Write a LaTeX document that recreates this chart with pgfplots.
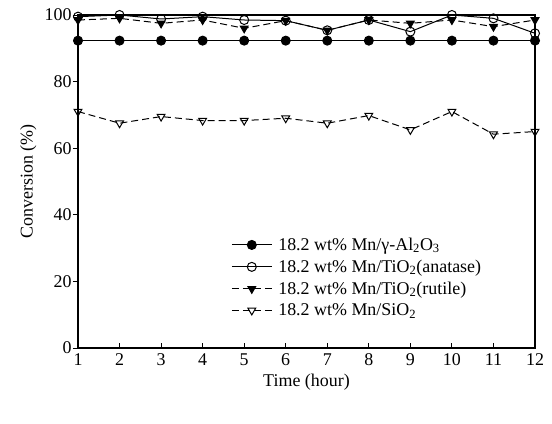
\documentclass[border=0pt]{standalone}
\usepackage{fontspec}
\setmainfont{Liberation Serif}
\usepackage{pgfplots}
\pgfplotsset{compat=1.18}
\begin{document}
\begin{tikzpicture}
\path[use as bounding box] (-78bp,-76bp) rectangle (474bp,348bp);
\begin{axis}[
  at={(0,0)}, anchor=south west,
  scale only axis, width=457bp, height=333bp,
  xmin=1, xmax=12, ymin=0, ymax=100,
  xtick={1,...,12}, ytick={0,20,...,100},
  tick pos=left, tick align=inside,
  major tick length=5bp,
  y tick style={xshift=-5bp},
  tick style={black, line width=0.9bp},
  axis line style={line width=1.4bp},
  yticklabel style={xshift=-3bp},
  xticklabel style={yshift=-2bp},
  clip=false,
  font=\fontsize{18}{22}\selectfont,
  /pgf/number format/assume math mode=true,
  xlabel={Time (hour)}, ylabel={Conversion (\%)},
  xlabel style={at={(axis description cs:0.5,-0.102)}, anchor=center},
  ylabel style={at={(axis description cs:-0.109,0.5)}, anchor=center},
  legend style={draw=none, fill=none, at={(0.335,0.337)}, anchor=north west,
    inner sep=0pt, row sep=4bp, column sep=4bp, font=\fontsize{18}{22}\selectfont},
  legend cell align=left,
  legend image code/.code={\draw[mark repeat=2,mark phase=2] plot coordinates {(0bp,0bp) (20bp,0bp) (40bp,0bp)};},
  every axis plot/.append style={black, line width=1bp, mark size=4.5bp},
]
\addplot[solid, mark=*] coordinates {
 (1,92.3) (2,92.3) (3,92.3) (4,92.3) (5,92.3) (6,92.3)
 (7,92.3) (8,92.3) (9,92.3) (10,92.3) (11,92.3) (12,92.3)};
\addlegendentry{18.2 wt\% Mn/γ-Al\textsubscript{2}O\textsubscript{3}}
\addplot[solid, mark=o, mark options={fill=white}] coordinates {
 (1,99.5) (2,100) (3,98.8) (4,99.5) (5,98.5) (6,98.3)
 (7,95.4) (8,98.5) (9,95) (10,100) (11,99) (12,94.5)};
\addlegendentry{18.2 wt\% Mn/TiO\textsubscript{2}(anatase)}
\addplot[dashed, dash pattern=on 7bp off 4bp, mark=triangle*, mark options={solid, rotate=180}] coordinates {
 (1,98.5) (2,99) (3,97.5) (4,98.5) (5,96) (6,98.3)
 (7,95.4) (8,98.5) (9,97.5) (10,98.5) (11,96.5) (12,98.5)};
\addlegendentry{18.2 wt\% Mn/TiO\textsubscript{2}(rutile)}
\addplot[dashed, dash pattern=on 7bp off 4bp, mark=triangle, mark options={solid, rotate=180, fill=white}] coordinates {
 (1,71) (2,67.5) (3,69.5) (4,68.3) (5,68.3) (6,69)
 (7,67.5) (8,69.8) (9,65.5) (10,71) (11,64.2) (12,65)};
\addlegendentry{18.2 wt\% Mn/SiO\textsubscript{2}}
\end{axis}
\end{tikzpicture}
\end{document}
